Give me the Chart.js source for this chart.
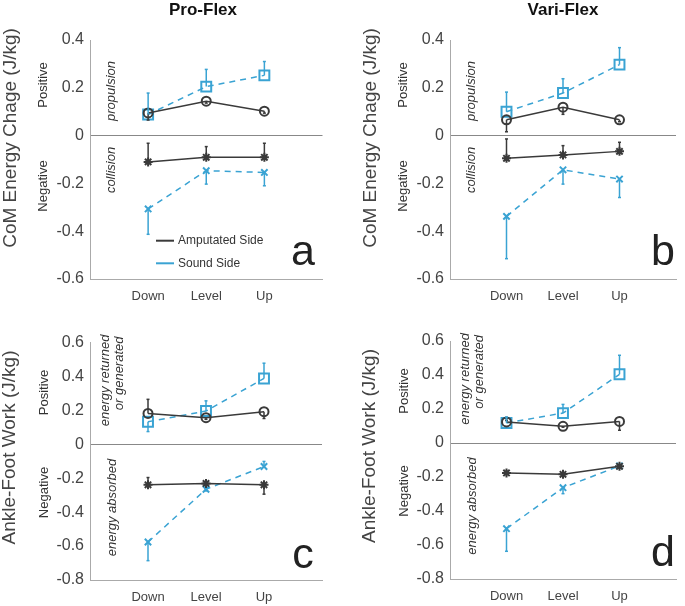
<!DOCTYPE html>
<html>
<head>
<meta charset="utf-8">
<script src="https://cdn.jsdelivr.net/npm/chart.js@4.4.1/dist/chart.umd.min.js"></script>
<style>
html, body { margin: 0; padding: 0; background: #fff; }
#wrap { position: relative; width: 685px; height: 606px; }
#wrap canvas { position: absolute; left: 0; top: 0; }
</style>
</head>
<body>
<div id="wrap">
  <canvas id="pa" width="685" height="606"></canvas>
  <canvas id="pb" width="685" height="606"></canvas>
  <canvas id="pc" width="685" height="606"></canvas>
  <canvas id="pd" width="685" height="606"></canvas>
</div>
<script>
'use strict';
const categories = ['Down', 'Level', 'Up'];
const comTicks = [-0.6, -0.4, -0.2, 0, 0.2, 0.4];
const workTicks = [-0.8, -0.6, -0.4, -0.2, 0, 0.2, 0.4, 0.6];

// a: Pro-Flex CoM energy change (err = signed length of the one-sided bar)
const proComAmpPos = [0.095, 0.144, 0.102];
const proComAmpPosErr = [-0.03, -0.008, -0.008];
const proComSoundPos = [0.088, 0.205, 0.252];
const proComSoundPosErr = [0.09, 0.072, 0.058];
const proComAmpNeg = [-0.11, -0.091, -0.091];
const proComAmpNegErr = [0.078, 0.045, 0.059];
const proComSoundNeg = [-0.307, -0.147, -0.154];
const proComSoundNegErr = [-0.106, -0.056, -0.056];

// b: Vari-Flex CoM energy change
const variComAmpPos = [0.066, 0.119, 0.066];
const variComAmpPosErr = [-0.05, -0.03, -0.008];
const variComSoundPos = [0.1, 0.178, 0.297];
const variComSoundPosErr = [0.082, 0.06, 0.071];
const variComAmpNeg = [-0.095, -0.081, -0.066];
const variComAmpNegErr = [0.081, 0.039, 0.038];
const variComSoundNeg = [-0.338, -0.143, -0.182];
const variComSoundNegErr = [-0.177, -0.06, -0.077];

// c: Pro-Flex ankle-foot work
const proWorkAmpPos = [0.182, 0.157, 0.192];
const proWorkAmpPosErr = [0.083, -0.01, -0.04];
const proWorkSoundPos = [0.133, 0.196, 0.388];
const proWorkSoundPosErr = [-0.058, 0.06, 0.09];
const proWorkAmpNeg = [-0.239, -0.231, -0.239];
const proWorkAmpNegErr = [0.043, 0.008, -0.055];
const proWorkSoundNeg = [-0.576, -0.265, -0.131];
const proWorkSoundNegErr = [-0.11, -0.01, 0.03];

// d: Vari-Flex ankle-foot work
const variWorkAmpPos = [0.124, 0.098, 0.127];
const variWorkAmpPosErr = [0.01, -0.005, -0.052];
const variWorkSoundPos = [0.118, 0.176, 0.404];
const variWorkSoundPosErr = [0.035, 0.051, 0.112];
const variWorkAmpNeg = [-0.176, -0.184, -0.137];
const variWorkAmpNegErr = [0, 0, 0];
const variWorkSoundNeg = [-0.504, -0.263, -0.135];
const variWorkSoundNegErr = [-0.133, -0.035, 0];

const dark = '#3a3a3a';
const blue = '#3aa3d3';
const fam = '"Liberation Sans", Arial, sans-serif';

function series(vals, errs, color, style, dashed) {
    return {
        data: vals.map((v, i) => ({ x: i + 1, y: v })),
        err: errs,
        borderColor: color,
        borderWidth: 1.5,
        borderDash: dashed ? [6, 5] : [],
        pointStyle: style,
        pointRadius: style === 'rect' ? 7 : (style === 'circle' ? 4.5 : 4.5),
        pointBorderWidth: 2,
        pointBorderColor: color,
        pointBackgroundColor: 'rgba(0,0,0,0)',
        fill: false,
        tension: 0
    };
}

// one-sided error bars
const errorBars = {
    id: 'errorBars',
    afterDatasetsDraw(chart) {
        const ctx = chart.ctx;
        const ys = chart.scales.y;
        chart.data.datasets.forEach((ds, di) => {
            const meta = chart.getDatasetMeta(di);
            ctx.save();
            ctx.strokeStyle = ds.borderColor;
            ctx.lineWidth = 1.5;
            ds.data.forEach((d, i) => {
                if (!ds.err[i]) return;
                const px = meta.data[i].x;
                ctx.beginPath();
                ctx.moveTo(px, ys.getPixelForValue(d.y));
                ctx.lineTo(px, ys.getPixelForValue(d.y + ds.err[i]));
                ctx.stroke();
                ctx.beginPath();
                ctx.moveTo(px - 1.5, ys.getPixelForValue(d.y + ds.err[i]));
                ctx.lineTo(px + 1.5, ys.getPixelForValue(d.y + ds.err[i]));
                ctx.stroke();
            });
            ctx.restore();
        });
    }
};

const panelText = {
    id: 'panelText',
    afterDraw(chart, args, opts) {
        const ctx = chart.ctx;
        const L = chart.chartArea.left, T = chart.chartArea.top;
        (opts.items || []).forEach(it => {
            ctx.save();
            ctx.translate(L + it.rx, T + it.ry);
            if (it.rot) ctx.rotate(-Math.PI / 2);
            if (it.line) {
                ctx.strokeStyle = it.line;
                ctx.lineWidth = 2;
                ctx.beginPath();
                ctx.moveTo(0, 0);
                ctx.lineTo(it.len, 0);
                ctx.stroke();
            } else {
                ctx.font = it.font + ' ' + fam;
                ctx.fillStyle = it.color || '#333';
                ctx.textAlign = it.align || 'center';
                ctx.textBaseline = it.base || 'middle';
                ctx.fillText(it.text, 0, 0);
            }
            ctx.restore();
        });
    }
};

function makePanel(id, p) {
    const datasets = [
        series(p.ampPos, p.ampPosErr, dark, 'circle', false),
        series(p.soundPos, p.soundPosErr, blue, 'rect', true),
        series(p.ampNeg, p.ampNegErr, dark, 'star', false),
        series(p.soundNeg, p.soundNegErr, blue, 'crossRot', true)
    ];
    new Chart(document.getElementById(id), {
        type: 'line',
        data: { datasets: datasets },
        plugins: [errorBars, panelText],
        options: {
            animation: false,
            responsive: false,
            devicePixelRatio: 1,
            layout: { padding: { left: p.left - 40, right: 685 - p.right, top: p.top, bottom: 606 - p.bottom - 30 } },
            plugins: {
                legend: { display: false },
                tooltip: { enabled: false },
                panelText: { items: p.texts }
            },
            scales: {
                x: {
                    type: 'linear', min: 0, max: 4,
                    afterBuildTicks: s => { s.ticks = categories.map((c, i) => ({ value: i + 1 })); },
                    afterFit: s => { s.height = 30; s.paddingLeft = 0; s.paddingRight = 0; },
                    ticks: { callback: v => categories[v - 1], autoSkip: false, maxRotation: 0,
                        font: { family: fam, size: 13 }, color: '#444', padding: 10 },
                    grid: { display: false, drawTicks: false },
                    border: { color: '#aaa', width: 1 }
                },
                y: {
                    min: p.ticks[0], max: p.ticks[p.ticks.length - 1],
                    afterBuildTicks: s => { s.ticks = p.ticks.map(v => ({ value: v })); },
                    afterFit: s => { s.width = 40; s.paddingTop = 0; s.paddingBottom = 0; },
                    ticks: { callback: v => String(v), font: { family: fam, size: 16 }, color: '#444', padding: 6 },
                    grid: { drawTicks: false, lineWidth: 1,
                        color: c => (c.tick && c.tick.value === 0) ? '#888' : 'rgba(0,0,0,0)' },
                    border: { color: '#aaa', width: 1 }
                }
            }
        }
    });
}

function comTexts(title, letter) {
    return [
        { text: title, rx: 113, ry: -30, font: 'bold 17px', color: '#111' },
        { text: 'CoM Energy Chage (J/kg)', rx: -79, ry: 98, rot: true, font: '19px', color: '#444' },
        { text: 'Positive', rx: -47, ry: 45, rot: true, font: '13px' },
        { text: 'Negative', rx: -47, ry: 146, rot: true, font: '13px' },
        { text: 'propulsion', rx: 21, ry: 51, rot: true, font: 'italic 13px' },
        { text: 'collision', rx: 21, ry: 130, rot: true, font: 'italic 13px' },
        { text: letter, rx: 213, ry: 225, font: '43px', color: '#222', base: 'alphabetic' }
    ];
}

function workTexts(letter) {
    return [
        { text: 'Ankle-Foot Work (J/kg)', rx: -80, ry: 105, rot: true, font: '19px', color: '#444' },
        { text: 'Positive', rx: -46, ry: 50, rot: true, font: '13px' },
        { text: 'Negative', rx: -46, ry: 150, rot: true, font: '13px' },
        { text: 'energy returned', rx: 15, ry: -8, rot: true, font: 'italic 13px', align: 'right' },
        { text: 'or generated', rx: 29, ry: -6, rot: true, font: 'italic 13px', align: 'right' },
        { text: 'energy absorbed', rx: 22, ry: 165, rot: true, font: 'italic 13px' },
        { text: letter, rx: 213, ry: 225, font: '43px', color: '#222', base: 'alphabetic' }
    ];
}

const legendItems = [
    { line: dark, rx: 66, ry: 200.7, len: 18 },
    { text: 'Amputated Side', rx: 88, ry: 200.7, font: '12px', align: 'left' },
    { line: blue, rx: 66, ry: 223.3, len: 18 },
    { text: 'Sound Side', rx: 88, ry: 223.3, font: '12px', align: 'left' }
];

makePanel('pa', {
    left: 90, right: 322.5, top: 40, bottom: 279, ticks: comTicks,
    ampPos: proComAmpPos, ampPosErr: proComAmpPosErr,
    soundPos: proComSoundPos, soundPosErr: proComSoundPosErr,
    ampNeg: proComAmpNeg, ampNegErr: proComAmpNegErr,
    soundNeg: proComSoundNeg, soundNegErr: proComSoundNegErr,
    texts: comTexts('Pro-Flex', 'a').concat(legendItems)
});
makePanel('pb', {
    left: 450, right: 683, top: 40, bottom: 279, ticks: comTicks,
    ampPos: variComAmpPos, ampPosErr: variComAmpPosErr,
    soundPos: variComSoundPos, soundPosErr: variComSoundPosErr,
    ampNeg: variComAmpNeg, ampNegErr: variComAmpNegErr,
    soundNeg: variComSoundNeg, soundNegErr: variComSoundNegErr,
    texts: comTexts('Vari-Flex', 'b')
});
makePanel('pc', {
    left: 90, right: 322, top: 342.5, bottom: 580, ticks: workTicks,
    ampPos: proWorkAmpPos, ampPosErr: proWorkAmpPosErr,
    soundPos: proWorkSoundPos, soundPosErr: proWorkSoundPosErr,
    ampNeg: proWorkAmpNeg, ampNegErr: proWorkAmpNegErr,
    soundNeg: proWorkSoundNeg, soundNegErr: proWorkSoundNegErr,
    texts: workTexts('c')
});
makePanel('pd', {
    left: 450, right: 683, top: 341, bottom: 579, ticks: workTicks,
    ampPos: variWorkAmpPos, ampPosErr: variWorkAmpPosErr,
    soundPos: variWorkSoundPos, soundPosErr: variWorkSoundPosErr,
    ampNeg: variWorkAmpNeg, ampNegErr: variWorkAmpNegErr,
    soundNeg: variWorkSoundNeg, soundNegErr: variWorkSoundNegErr,
    texts: workTexts('d')
});
</script>
</body>
</html>
